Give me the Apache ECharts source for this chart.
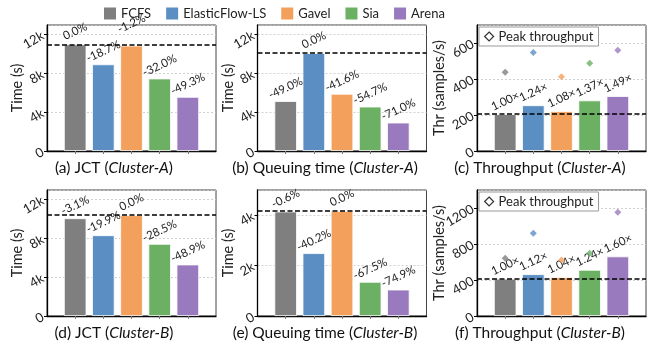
<!DOCTYPE html>
<html>
<head>
<meta charset="utf-8">
<script src="https://cdn.jsdelivr.net/npm/echarts@6/dist/echarts.min.js"></script>
<style>
  html, body { margin: 0; padding: 0; background: #fff; }
  #main { width: 654px; height: 349px; }
</style>
</head>
<body>
<div id="main"></div>
<script>
// 方法名 / 颜色
var methods = ['FCFS', 'ElasticFlow-LS', 'Gavel', 'Sia', 'Arena'];
var colors = ['#7f7f7f', '#5b8fc3', '#f4a05d', '#6cb163', '#9a7abe'];

// (a) JCT Cluster-A
var jctA = [11000, 8940, 10870, 7480, 5580];
var jctALabels = ['0.0%', '-18.7%', '-1.2%', '-32.0%', '-49.3%'];
var jctABase = 11000;
// (b) Queuing time Cluster-A
var queueA = [5150, 10100, 5900, 4580, 2930];
var queueALabels = ['-49.0%', '0.0%', '-41.6%', '-54.7%', '-71.0%'];
var queueABase = 10100;
// (c) Throughput Cluster-A
var thrA = [205, 254, 221, 281, 305];
var thrALabels = ['1.00×', '1.24×', '1.08×', '1.37×', '1.49×'];
var peakA = [438, 547, 412, 488, 560];
var thrABase = 205;
// (d) JCT Cluster-B
var jctB = [10080, 8330, 10400, 7440, 5310];
var jctBLabels = ['-3.1%', '-19.9%', '0.0%', '-28.5%', '-48.9%'];
var jctBBase = 10400;
// (e) Queuing time Cluster-B
var queueB = [4145, 2494, 4170, 1355, 1047];
var queueBLabels = ['-0.6%', '-40.2%', '0.0%', '-67.5%', '-74.9%'];
var queueBBase = 4170;
// (f) Throughput Cluster-B
var thrB = [414, 464, 431, 513, 662];
var thrBLabels = ['1.00×', '1.12×', '1.04×', '1.24×', '1.60×'];
var peakB = [641, 919, 622, 697, 1152];
var thrBBase = 414;

var font = 'Lato';
var kFmt = function (v) { return v >= 1000 ? (v / 1000) + 'k' : String(v); };

var panels = [
  { left: 47, top: 25, max: 13000, interval: 4000, name: 'Time (s)', gap: 22, fmt: kFmt,
    values: jctA, labels: jctALabels, base: jctABase, lift: { 2: 9 },
    caption: '(a) JCT ({i|Cluster-A})', cx: 114 },
  { left: 257.5, top: 25, max: 13000, interval: 4000, name: 'Time (s)', gap: 22, fmt: kFmt,
    values: queueA, labels: queueALabels, base: queueABase,
    caption: '(b) Queuing time ({i|Cluster-A})', cx: 325 },
  { left: 477, top: 25, max: 700, interval: 200, name: 'Thr (samples/s)', gap: 30, fmt: kFmt,
    values: thrA, labels: thrALabels, base: thrABase, peaks: peakA,
    caption: '(c) Throughput ({i|Cluster-A})', cx: 540 },
  { left: 47, top: 190, max: 13000, interval: 4000, name: 'Time (s)', gap: 22, fmt: kFmt,
    values: jctB, labels: jctBLabels, base: jctBBase,
    caption: '(d) JCT ({i|Cluster-B})', cx: 114 },
  { left: 257.5, top: 190, max: 5000, interval: 2000, name: 'Time (s)', gap: 22, fmt: kFmt,
    values: queueB, labels: queueBLabels, base: queueBBase,
    caption: '(e) Queuing time ({i|Cluster-B})', cx: 325 },
  { left: 477, top: 190, max: 1400, interval: 400, name: 'Thr (samples/s)', gap: 30, fmt: String,
    values: thrB, labels: thrBLabels, base: thrBBase, peaks: peakB,
    caption: '(f) Throughput ({i|Cluster-B})', cx: 540 }
];

var grids = [], xAxes = [], yAxes = [], series = [], graphics = [];

panels.forEach(function (p, i) {
  grids.push({
    left: p.left, top: p.top, width: 169, height: 126,
    show: true, borderColor: '#444', borderWidth: 1, backgroundColor: 'transparent'
  });
  xAxes.push({
    gridIndex: i, type: 'value', min: -1, max: 5, interval: 1,
    axisLabel: { show: false },
    splitLine: { show: false },
    axisLine: { onZero: false, lineStyle: { color: '#000', width: 1.3 } },
    axisTick: { show: true, customValues: [0, 1, 2, 3, 4], length: 3, lineStyle: { color: '#777' } }
  });
  yAxes.push({
    gridIndex: i, type: 'value', min: 0, max: p.max, interval: p.interval,
    name: p.name, nameLocation: 'middle', nameGap: p.gap, nameMoveOverlap: false,
    nameTextStyle: { fontSize: 14.5, fontFamily: font, color: '#222' },
    axisLine: { show: true, onZero: false, lineStyle: { color: '#000', width: 1.3 } },
    axisTick: { show: true, length: 3, lineStyle: { color: '#000' } },
    axisLabel: {
      rotate: 30, fontSize: 13, fontFamily: font, color: '#222', margin: 4,
      showMaxLabel: false, formatter: p.fmt
    },
    splitLine: { show: true, lineStyle: { color: '#c4c4c4', type: [2, 2], width: 0.8 } }
  });

  var barData = p.values.map(function (v, k) {
    var item = { value: [k, v] };
    // 手动上移避免和虚线重叠
    if (p.lift && p.lift[k]) item.label = { distance: 13 + p.lift[k] };
    return item;
  });

  series.push({
    type: 'bar', xAxisIndex: i, yAxisIndex: i, barWidth: 22.5,
    data: barData,
    itemStyle: {
      color: function (d) { return colors[d.dataIndex]; },
      borderColor: '#fff', borderWidth: 0.8
    },
    label: {
      show: true, position: 'top', distance: 13, rotate: 25,
      align: 'center', verticalAlign: 'middle',
      fontSize: 11.5, fontFamily: font, color: '#222',
      formatter: (function (labels) { return function (d) { return labels[d.dataIndex]; }; })(p.labels)
    },
    markLine: {
      silent: true, symbol: 'none', label: { show: false },
      lineStyle: { color: '#000', type: [5, 2.5], width: 1.6 },
      data: [{ yAxis: p.base }]
    },
    z: 2
  });

  if (p.peaks) {
    series.push({
      name: 'Peak throughput', type: 'scatter', xAxisIndex: i, yAxisIndex: i,
      symbol: 'diamond', symbolSize: 7,
      data: p.peaks.map(function (v, k) { return [k, v]; }),
      itemStyle: { color: function (d) { return colors[d.dataIndex]; } },
      z: 3
    });
  }

  graphics.push({
    type: 'text', x: p.cx, y: p.top + 142.5,
    style: {
      text: p.caption, align: 'center', verticalAlign: 'middle',
      fontSize: 15.5, fontFamily: font, fill: '#111',
      rich: { i: { fontStyle: 'italic', fontSize: 15.5, fontFamily: font, fill: '#111' } }
    }
  });
});

// 图例用的空系列
methods.forEach(function (m, k) {
  series.push({ name: m, type: 'line', xAxisIndex: 0, yAxisIndex: 0, data: [],
    itemStyle: { color: colors[k] }, lineStyle: { color: colors[k] } });
});

var peakLegend = function (top) {
  return {
    data: ['Peak throughput'], left: 479, top: top, orient: 'horizontal',
    icon: 'diamond', itemWidth: 9, itemHeight: 9,
    itemStyle: { color: '#fff', borderColor: '#000', borderWidth: 1.2 },
    padding: [3, 5, 3, 5], borderColor: '#999', borderWidth: 1, borderRadius: 0,
    backgroundColor: '#fff',
    textStyle: { fontSize: 13, fontFamily: font, color: '#222' }
  };
};

var chart = echarts.init(document.getElementById('main'), null, { renderer: 'canvas' });
chart.setOption({
  animation: false,
  backgroundColor: '#fff',
  legend: [{
    data: methods, left: 99, top: 2, icon: 'rect',
    itemWidth: 12, itemHeight: 12, itemGap: 15,
    textStyle: { fontSize: 13, fontFamily: font, color: '#222' }
  }, peakLegend(27), peakLegend(192)],
  grid: grids,
  xAxis: xAxes,
  yAxis: yAxes,
  series: series,
  graphic: graphics
});
</script>
</body>
</html>
